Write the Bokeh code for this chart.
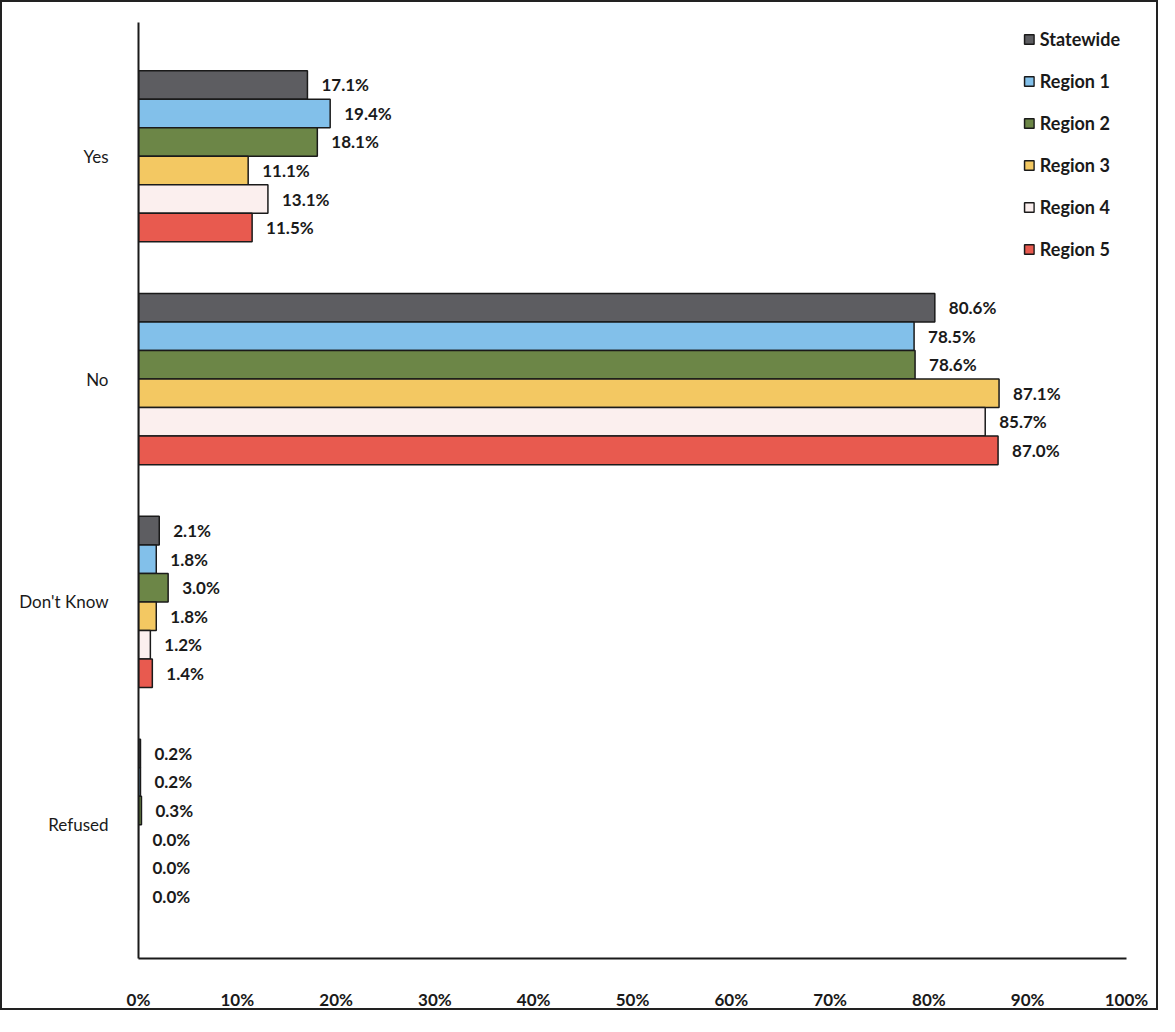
from bokeh.plotting import figure
from bokeh.models import FactorRange, Range1d, ColumnDataSource, PrintfTickFormatter, FixedTicker, Legend, LegendItem
from bokeh.transform import dodge
from bokeh.core.properties import value
from bokeh.embed import file_html
from bokeh.resources import INLINE

categories = ["Yes", "No", "Don't Know", "Refused"]
series_names = ["Statewide", "Region 1", "Region 2", "Region 3", "Region 4", "Region 5"]
statewide = [17.1, 80.6, 2.1, 0.2]
region1 = [19.4, 78.5, 1.8, 0.2]
region2 = [18.1, 78.6, 3.0, 0.3]
region3 = [11.1, 87.1, 1.8, 0.0]
region4 = [13.1, 85.7, 1.2, 0.0]
region5 = [11.5, 87.0, 1.4, 0.0]
x_ticks = [0, 10, 20, 30, 40, 50, 60, 70, 80, 90, 100]

series_values = [statewide, region1, region2, region3, region4, region5]
colors = ["#5d5d61", "#82c0ea", "#6c8647", "#f3c862", "#fbefee", "#e85a4f"]

FONT = "Lato"

y_range = FactorRange(factors=list(reversed(categories)), range_padding=0.1, range_padding_units="absolute")
p = figure(width=1158, height=1010, y_range=y_range, x_range=Range1d(0, 100),
           output_backend="svg", toolbar_location=None,
           min_border_left=136, min_border_right=34, min_border_top=20, min_border_bottom=50)
p.styles = {"border": "2px solid #222"}

p.outline_line_color = None
p.xgrid.grid_line_color = None
p.ygrid.grid_line_color = None

bar_h = 0.128
items = []
for i, (name, vals, col) in enumerate(zip(series_names, series_values, colors)):
    src = ColumnDataSource(dict(cat=categories, val=vals, lbl=[f"{v:.1f}%" for v in vals]))
    off = (2.5 - i) * bar_h
    r = p.hbar(y=dodge("cat", off, range=p.y_range), right="val", left=0, height=bar_h,
               source=src, fill_color=col, line_color="#1a1a1a", line_width=1.5)
    p.text(x="val", y=dodge("cat", off, range=p.y_range), text="lbl", source=src,
           x_offset=14, text_baseline="middle", text_align="left",
           text_font=value(FONT), text_font_style="bold", text_font_size="17px", text_color="#1a1a1a")
    items.append(LegendItem(label=name, renderers=[r]))

legend = Legend(items=items, location="top_right")
legend.border_line_color = None
legend.background_fill_alpha = 0
legend.label_text_font = FONT
legend.label_text_font_style = "bold"
legend.label_text_font_size = "18px"
legend.label_text_color = "#1a1a1a"
legend.glyph_width = 12
legend.glyph_height = 12
legend.label_height = 20
legend.spacing = 20
legend.label_standoff = 5
legend.padding = 0
legend.margin = 6
p.add_layout(legend)

p.xaxis.ticker = FixedTicker(ticks=x_ticks)
p.xaxis.formatter = PrintfTickFormatter(format="%d%%")
p.xaxis.major_tick_line_color = None
p.xaxis.minor_tick_line_color = None
p.xaxis.axis_line_color = "#1a1a1a"
p.xaxis.axis_line_width = 2
p.xaxis.major_label_standoff = 24
p.xaxis.major_label_text_font = FONT
p.xaxis.major_label_text_font_style = "bold"
p.xaxis.major_label_text_font_size = "17px"
p.xaxis.major_label_text_color = "#1a1a1a"

p.yaxis.major_tick_line_color = None
p.yaxis.minor_tick_line_color = None
p.yaxis.axis_line_color = "#1a1a1a"
p.yaxis.axis_line_width = 2
p.yaxis.major_label_standoff = 24
p.yaxis.major_label_text_font = FONT
p.yaxis.major_label_text_font_style = "normal"
p.yaxis.major_label_text_font_size = "17px"
p.yaxis.major_label_text_color = "#1a1a1a"

open("out.html", "w").write(file_html(p, INLINE))
